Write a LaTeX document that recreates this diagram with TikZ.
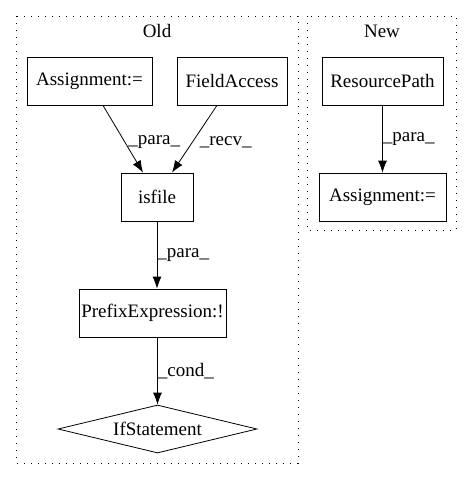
\documentclass[tikz,border=0pt]{standalone}
\usepackage{fontspec}
\setmainfont{Liberation Serif}
\usetikzlibrary{arrows.meta,shapes.geometric}

\tikzset{>={Latex[length=12pt,width=9pt]}}
\tikzset{
  stmt/.style={draw,thick,rectangle,minimum height=48pt,inner sep=0pt,
    font=\fontsize{19}{21}\selectfont},
  cond/.style={draw,thick,diamond,aspect=4.15,minimum width=199pt,
    minimum height=48pt,inner sep=0pt,font=\fontsize{19}{21}\selectfont},
  cluster/.style={draw,thick,dash pattern=on 1.4pt off 5.6pt},
  lbl/.style={right,inner sep=1pt,font=\fontsize{19}{21}\selectfont},
  title/.style={font=\fontsize{19}{21}\selectfont},
  dep/.style={->,thick},
}

\begin{document}
\begin{tikzpicture}[x=1pt,y=-1pt]
\useasboundingbox (0,0) rectangle (472,480);

% clusters
\draw [cluster] (16,16) rectangle (298,463);
\node [title] (old) at (157,31) {Old};
\draw [cluster] (307,16) rectangle (456,230);
\node [title] (new) at (382,31) {New};

% old version
\node [stmt,minimum width=125pt] (asgold) at (89.5,81) {Assignment:=};
\node [stmt,minimum width=110pt] (field) at (232,81) {FieldAccess};
\node [stmt,minimum width=72pt] (isfile) at (157,197) {isfile};
\node [stmt,minimum width=147pt] (prefix) at (152.5,313) {PrefixExpression:!};
\node [cond] (ifst) at (157.5,429) {IfStatement};

\draw [dep] ([xshift=13.5pt]asgold.south) -- node [lbl,xshift=4pt,yshift=-3pt] {\_para\_} ([xshift=-14pt]isfile.north);
\draw [dep] ([xshift=-15pt]field.south) -- node [lbl,xshift=4pt,yshift=-3pt] {\_recv\_} ([xshift=15pt]isfile.north);
\draw [dep] (isfile) -- node [lbl,inner sep=0pt] {\_para\_} (isfile |- prefix.north);
\draw [dep] (prefix.south -| ifst) -- node [lbl,inner sep=0pt] {\_cond\_} (ifst);

% new version
\node [stmt,minimum width=121pt] (respath) at (382.5,81) {ResourcePath};
\node [stmt,minimum width=127pt] (asgnew) at (382.5,197) {Assignment:=};

\draw [dep] (respath) -- node [lbl,inner sep=0pt] {\_para\_} (asgnew);
\end{tikzpicture}
\end{document}
